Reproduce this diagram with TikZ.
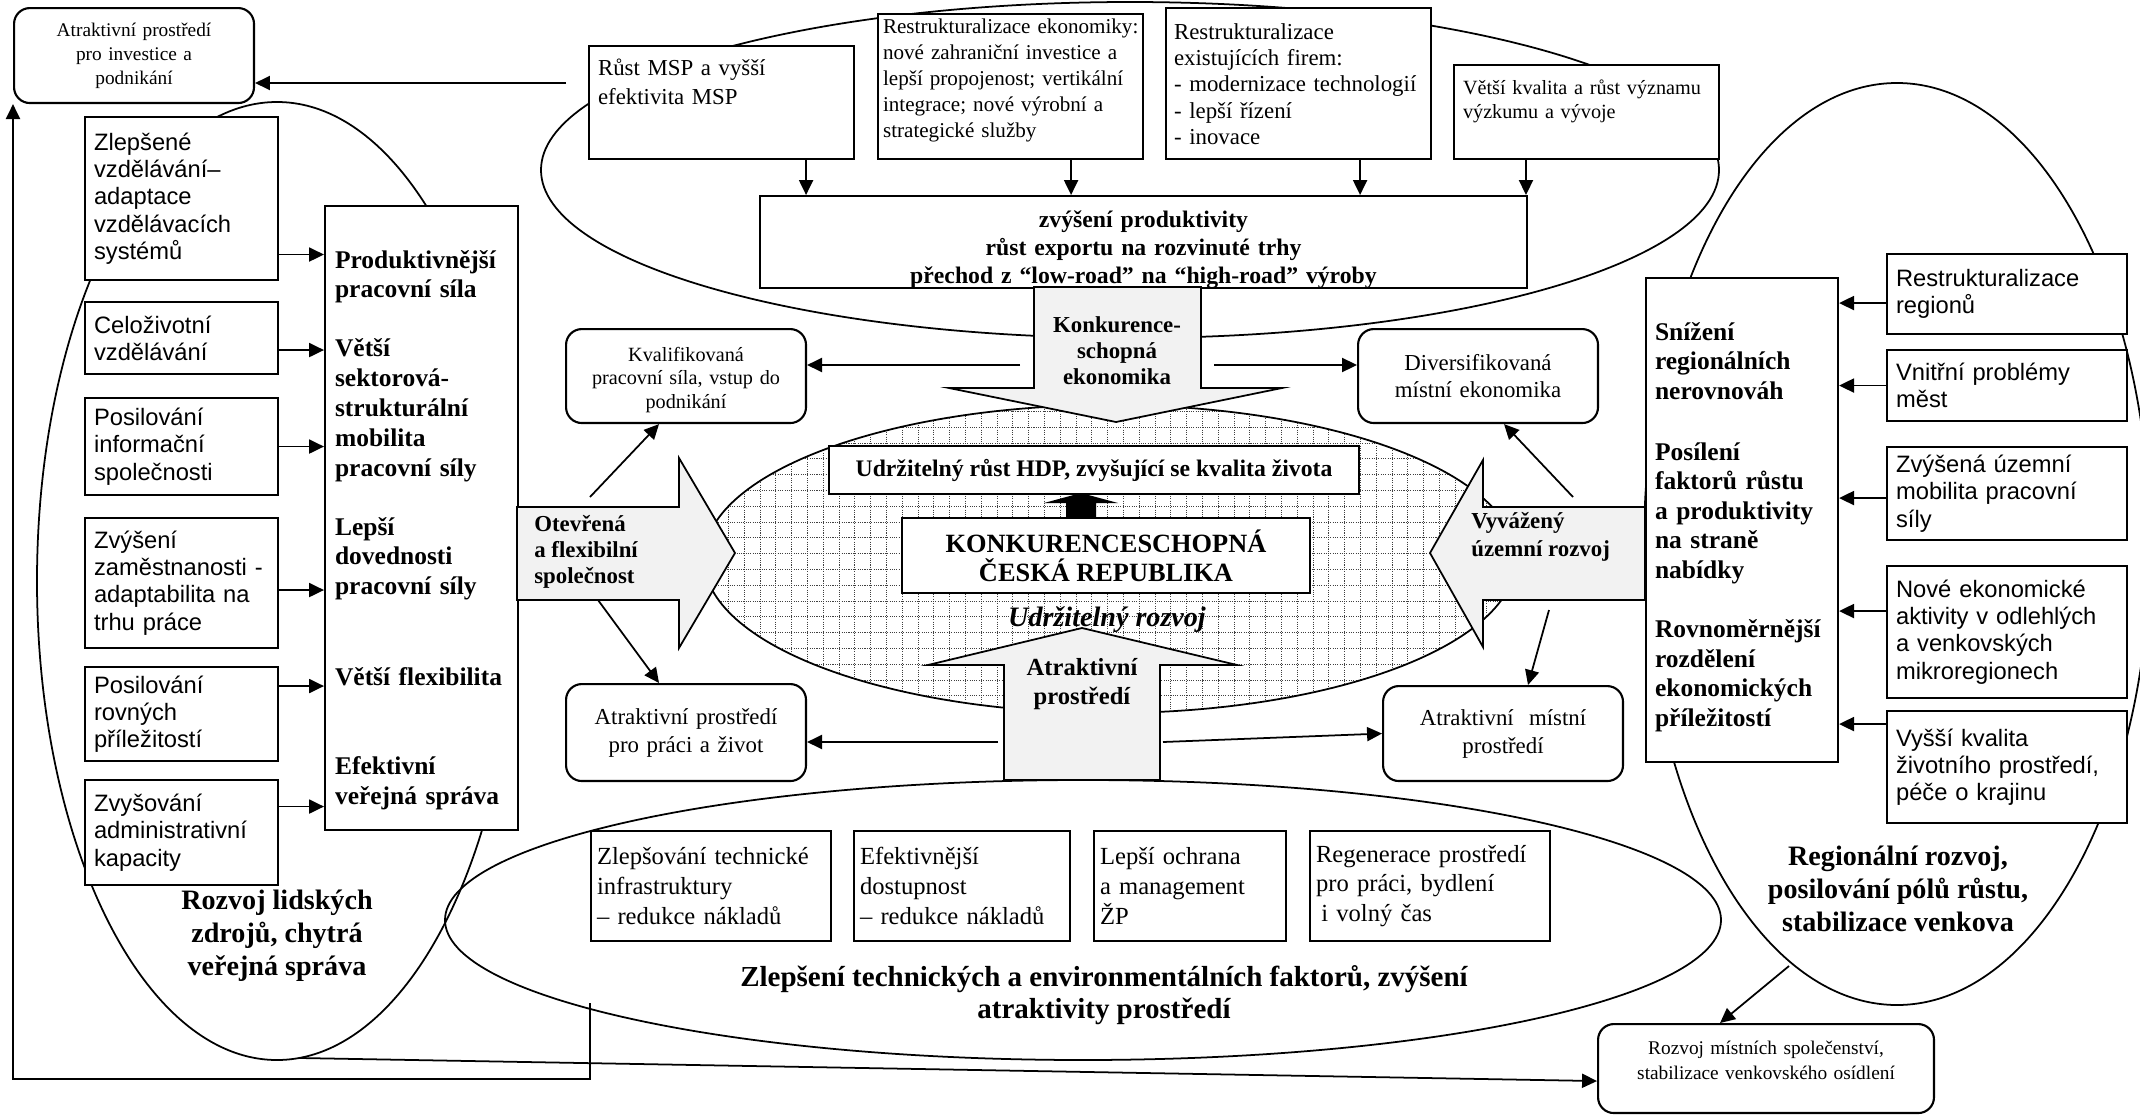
\documentclass[tikz,border=0pt]{standalone}
\usepackage{fontspec}
\setmainfont{Liberation Serif}
\newfontfamily\arialf{Liberation Sans}
\usetikzlibrary{arrows.meta}

\newcommand{\fsz}[2]{\fontsize{#1}{#2}\selectfont}
\newcommand{\jline}[1]{\makebox[\linewidth][s]{#1}}

\tikzset{
    bx/.style={draw, fill=white, line width=1.2pt, anchor=north west, inner ysep=0pt},
    rbx/.style={bx, rounded corners=9pt},
    sbx/.style={bx, align=left, inner xsep=0.18cm, font=\arialf\fsz{13.5}{15.5}},
    tb/.style={bx, align=left, inner xsep=0.12cm, minimum height=2.2cm, font=\fsz{14}{17}},
    arr/.style={line width=1pt, -{Triangle[length=8.5pt,width=8pt]}},
    blk/.style={draw, line width=1pt, fill=black!5},
    oval/.style={line width=1pt},
    gridl/.style={black!75, line width=0.55pt, dash pattern=on 0.6pt off 0.7pt},
    lbl/.style={align=center, inner sep=0pt}
}

\begin{document}
\begin{tikzpicture}[x=0.02cm, y=-0.02cm]

            \useasboundingbox (0,0) rectangle (2140,1116);
            \clip (0,0) rectangle (2140,1116);

            % hatched centre
            \begin{scope}
                \clip (1110,559) ellipse [x radius=406, y radius=154];
                \foreach \x in {696.8,712.6,...,1520} \draw[gridl] (\x,400) -- (\x,720);
                \foreach \y in {411.4,427.2,...,715} \draw[gridl] (700,\y) -- (1520,\y);
            \end{scope}
            \draw[oval] (1110,559) ellipse [x radius=406, y radius=154];

            \draw[oval] (1130,170) ellipse [x radius=589, y radius=168];
            \draw[oval] (1083,920) ellipse [x radius=638, y radius=140];
            \draw[oval] (277,581) ellipse [x radius=240, y radius=479];
            \draw[oval] (1897,544) ellipse [x radius=253, y radius=461];

            % top
            \node[rbx, align=center, text width=4.8cm, inner xsep=0pt, minimum height=1.9cm, font=\fsz{11}{13.6}] (tla) at (13,7) {Atraktivní prostředí\\pro investice a\\podnikání};
            \node[bx, align=left, text width=4.94cm, inner xsep=0.18cm, text height=0.58cm, text depth=1.68cm, font=\fsz{13}{16.5}] (msp) at (588,45) {Růst MSP a vyšší\\efektivita MSP};
            \node[bx, align=left, text width=5.1cm, inner xsep=0.1cm, text height=0.38cm, text depth=2.52cm, font=\fsz{12}{14.8}] (rek) at (877,13)
                {\jline{Restrukturalizace ekonomiky:}\\\jline{nové zahraniční investice a}\\\jline{lepší propojenost; vertikální}\\\jline{integrace; nové výrobní a}\\strategické služby};
            \node[bx, align=left, text width=4.98cm, inner xsep=0.16cm, text height=0.62cm, text depth=2.4cm, font=\fsz{13}{15}] (rfi) at (1165,7)
                {Restrukturalizace\\existujících firem:\\- modernizace technologií\\- lepší řízení\\- inovace};
            \node[bx, align=left, text width=4.94cm, inner xsep=0.18cm, text height=0.58cm, text depth=1.3cm, font=\fsz{11.5}{14.2}] (vkv) at (1453,64)
                {\jline{Větší kvalita a růst významu}\\výzkumu a vývoje};
            \node[bx, align=center, text width=15.34cm, inner xsep=0pt, text height=0.62cm, text depth=1.22cm, font=\bfseries\fsz{13.5}{16}] (prod) at (759,195)
                {zvýšení produktivity\\růst exportu na rozvinuté trhy\\přechod z “low-road” na “high-road” výroby};

            % left
            \node[sbx, text width=3.5cm, minimum height=3.26cm] (z1) at (84,116) {Zlepšené\\vzdělávání–\\adaptace\\vzdělávacích\\systémů};
            \node[sbx, text width=3.5cm, minimum height=1.44cm] (z2) at (84,301) {Celoživotní\\vzdělávání};
            \node[sbx, text width=3.5cm, minimum height=1.94cm] (z3) at (84,397) {Posilování\\informační\\společnosti};
            \node[sbx, text width=3.5cm, minimum height=2.6cm] (z4) at (84,517) {Zvýšení\\zaměstnanosti -\\adaptabilita na\\trhu práce};
            \node[sbx, text width=3.5cm, minimum height=1.88cm] (z5) at (84,666) {Posilování\\rovných\\příležitostí};
            \node[sbx, text width=3.5cm, minimum height=2.1cm] (z6) at (84,779) {Zvyšování\\administrativní\\kapacity};
            \node[bx, align=left, text width=3.46cm, inner xsep=0.2cm, text height=1.24cm, text depth=11.24cm, font=\bfseries\fsz{14.5}{17}] (hrd) at (324,205)
                {Produktivnější\\pracovní síla\\[16.5pt]Větší\\sektorová-\\strukturální\\mobilita\\pracovní síly\\[16.5pt]Lepší\\dovednosti\\pracovní síly\\[34.5pt]Větší flexibilita\\[34pt]Efektivní\\veřejná správa};

            % right
            \node[sbx, text width=4.44cm, minimum height=1.6cm] (r1) at (1886,253) {Restrukturalizace\\regionů};
            \node[sbx, text width=4.44cm, minimum height=1.42cm] (r2) at (1886,349) {Vnitřní problémy\\měst};
            \node[sbx, text width=4.44cm, minimum height=1.86cm] (r3) at (1886,446) {Zvýšená územní\\mobilita pracovní\\síly};
            \node[sbx, text width=4.44cm, minimum height=2.64cm] (r4) at (1886,565) {Nové ekonomické\\aktivity v odlehlých\\a venkovských\\mikroregionech};
            \node[sbx, text width=4.44cm, minimum height=2.24cm] (r5) at (1886,710) {Vyšší kvalita\\životního prostředí,\\péče o krajinu};
            \node[bx, align=left, text width=3.48cm, inner xsep=0.18cm, text height=1.24cm, text depth=8.44cm, font=\bfseries\fsz{14.5}{16.8}] (rrd) at (1645,277)
                {Snížení\\regionálních\\nerovnováh\\[18pt]Posílení\\faktorů růstu\\a produktivity\\na straně\\nabídky\\[17pt]Rovnoměrnější\\rozdělení\\ekonomických\\příležitostí};

            % middle
            \node[rbx, align=center, text width=4.8cm, inner xsep=0pt, text height=0.64cm, text depth=1.24cm, font=\fsz{11.5}{13.6}] (kval) at (565,328) {Kvalifikovaná\\pracovní síla, vstup do\\podnikání};
            \node[rbx, align=center, text width=4.8cm, inner xsep=0pt, minimum height=1.88cm, font=\fsz{13}{15}] (div) at (1357,328) {Diversifikovaná\\místní ekonomika};
            \node[rbx, align=center, text width=4.8cm, inner xsep=0pt, minimum height=1.94cm, font=\fsz{13}{16}] (apz) at (565,683) {Atraktivní prostředí\\pro práci a život};
            \node[rbx, align=center, text width=4.8cm, inner xsep=0pt, minimum height=1.9cm, font=\fsz{13}{16}] (ams) at (1382,685) {Atraktivní~ místní\\prostředí};
            \node[bx, align=center, minimum width=10.6cm, minimum height=0.96cm, inner xsep=0pt, font=\bfseries\fsz{13.5}{16}] (hdp) at (828,445) {Udržitelný růst HDP, zvyšující se kvalita života};
            \node[bx, align=center, minimum width=8.16cm, minimum height=1.5cm, font=\bfseries\fsz{15}{16.5}] (kcr) at (901,517) {KONKURENCESCHOPNÁ\\ČESKÁ REPUBLIKA};
            \node[rbx, align=center, text width=6.72cm, inner xsep=0pt, text height=0.6cm, text depth=1.18cm, font=\fsz{11}{14.2}] (rm) at (1597,1023) {Rozvoj místních společenství,\\stabilizace venkovského osídlení};

            % bottom
            \node[tb, text width=4.56cm] (b1) at (590,830) {Zlepšování technické\\infrastruktury\\– redukce nákladů};
            \node[tb, text width=4.08cm] (b2) at (853,830) {Efektivnější\\dostupnost\\– redukce nákladů};
            \node[tb, text width=3.6cm] (b3) at (1093,830) {Lepší ochrana\\a management\\ŽP};
            \node[tb, text width=4.56cm] (b4) at (1309,830) {Regenerace prostředí\\pro práci, bydlení\\\hspace{3pt}i volný čas};

            % block arrows
            \draw[blk] (1034,287) -- (1201,287) -- (1201,388) -- (1282,388) -- (1116,422) -- (949,388) -- (1034,388) -- cycle;
            \node[lbl, font=\bfseries\fsz{13}{14.8}] (kek) at (1117,351) {Konkurence-\\schopná\\ekonomika};

            \draw[blk] (517,507) -- (679,507) -- (679,458) -- (735,553) -- (679,648) -- (679,600) -- (517,600) -- cycle;
            \node[lbl, align=left, anchor=west, font=\bfseries\fsz{13}{15}] (ofs) at (534,552) {Otevřená\\a flexibilní\\společnost};

            \draw[blk] (1645,507) -- (1483,507) -- (1483,460) -- (1430,553) -- (1483,647) -- (1483,600) -- (1645,600) -- cycle;
            \node[lbl, align=left, anchor=west, font=\bfseries\fsz{13}{16}] (vyu) at (1471,537) {Vyvážený\\územní rozvoj};

            \draw[blk] (1004,780) -- (1004,665) -- (928,665) -- (1082,628) -- (1237,665) -- (1160,665) -- (1160,780) -- cycle;
            \node[lbl, font=\bfseries\fsz{14}{17}] (atp) at (1082,684) {Atraktivní\\prostředí};

            \fill (1066,517) -- (1066,503) -- (1044,503) -- (1081,493) -- (1118,503) -- (1096,503) -- (1096,517) -- cycle;
            \node[lbl, font=\bfseries\itshape\fsz{16}{18}] (urz) at (1107,620) {Udržitelný rozvoj};

            % captions
            \node[lbl, font=\bfseries\fsz{16}{18.8}] (lcap) at (277,936) {Rozvoj lidských\\zdrojů, chytrá\\veřejná správa};
            \node[lbl, font=\bfseries\fsz{16}{18.8}] (rcap) at (1898,889) {Regionální rozvoj,\\posilování pólů růstu,\\stabilizace venkova};
            \node[lbl, font=\bfseries\fsz{16.5}{18.5}] (bcap) at (1104,995) {Zlepšení technických a environmentálních faktorů, zvýšení\\atraktivity prostředí};

            % connectors
            \foreach \n/\s in {msp/-0.98cm, rek/-1.46cm, rfi/-1.44cm}{
                \path ([xshift=\s]\n.south east) coordinate (t);
                \draw[arr] (t) -- (t |- prod.north);
            }
            \path ([xshift=1.46cm]vkv.south west) coordinate (t);
            \draw[arr] (t) -- (t |- prod.north);

            \foreach \n/\s in {z1/-1.12cm, z2/-0.24cm, z3/0cm, z4/-0.14cm, z5/0.56cm, z6/0.52cm}{
                \path ([yshift=\s]\n.east) coordinate (t);
                \draw[arr] (t) -- (t -| hrd.west);
            }
            \foreach \n/\s in {r1/-0.18cm, r2/0cm, r3/-0.09cm, r4/0.42cm, r5/0.86cm}{
                \path ([yshift=\s]\n.west) coordinate (t);
                \draw[arr] (t) -- (t -| rrd.east);
            }

            \coordinate (mspout) at (566,83);
            \draw[arr] (mspout) -- (mspout -| tla.east);

            \coordinate (ke1) at (1020,365);
            \coordinate (ke2) at (1214,365);
            \draw[arr] (ke1) -- (ke1 -| kval.east);
            \draw[arr] (ke2) -- (ke2 -| div.west);

            \coordinate (of1) at (590,497);
            \coordinate (of2) at (598,600);
            \draw[arr] (of1) -- ([xshift=-0.54cm]kval.south);
            \draw[arr] (of2) -- ([xshift=-0.54cm]apz.north);

            \coordinate (vy1) at (1573,497);
            \coordinate (vy2) at (1549,610);
            \draw[arr] (vy1) -- ([xshift=0.52cm]div.south);
            \draw[arr] (vy2) -- ([xshift=0.5cm]ams.north);

            \coordinate (at1) at (998,742);
            \coordinate (at2) at (1163,742);
            \draw[arr] (at1) -- (at1 -| apz.east);
            \draw[arr] (at2) -- (ams.west);

            \coordinate (re1) at (1789,966);
            \draw[arr] (re1) -- ([xshift=-0.92cm]rm.north);
            \coordinate (le1) at (300,1058);
            \draw[arr] (le1) -- ([yshift=-0.25cm]rm.west);

            \coordinate (be1) at (590,1003);
            \coordinate (fr) at (13,1079);
            \draw[arr] (be1) |- (fr) -- (tla.south west);

\end{tikzpicture}
\end{document}
